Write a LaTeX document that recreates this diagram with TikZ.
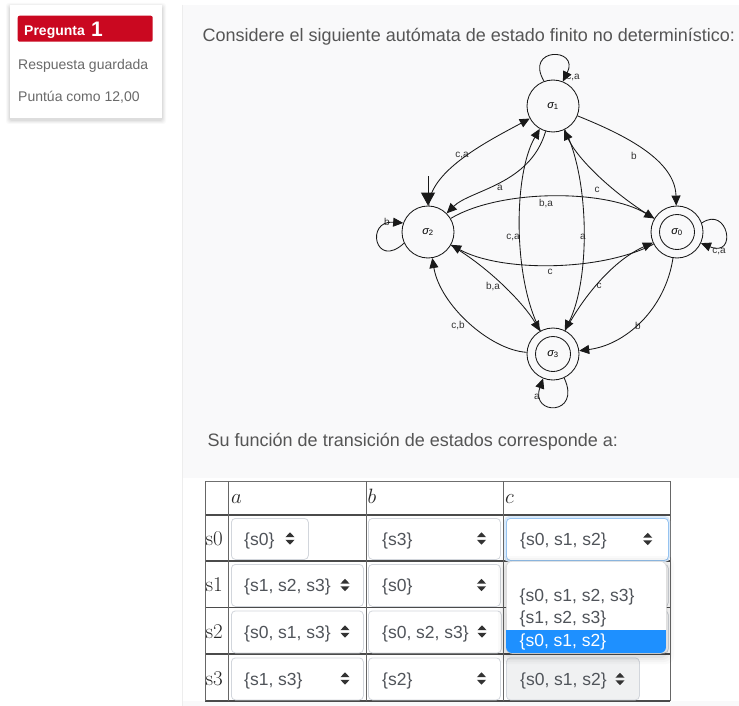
\documentclass[tikz,border=0pt]{standalone}
\usepackage{fontspec}
\setmainfont{Liberation Sans}
\usetikzlibrary{arrows.meta}
\definecolor{qred}{RGB}{202,8,32}
\definecolor{txt}{RGB}{85,85,85}
\definecolor{muted}{RGB}{105,105,105}
\definecolor{bggray}{RGB}{249,249,250}
\definecolor{selb}{RGB}{210,214,220}
\definecolor{seltxt}{RGB}{80,84,90}
\definecolor{focusb}{RGB}{150,195,240}
\definecolor{hl}{RGB}{30,144,255}
\definecolor{gridc}{RGB}{75,75,75}
\definecolor{disab}{RGB}{240,241,242}
\newcommand\selicon[2]{%
  \fill[black!80] (#1-4.6,#2-1.3) -- (#1+4.6,#2-1.3) -- (#1,#2-6.2) -- cycle;
  \fill[black!80] (#1-4.6,#2+1.3) -- (#1+4.6,#2+1.3) -- (#1,#2+6.2) -- cycle;}
\begin{document}
\begin{tikzpicture}[x=1pt,y=-1pt,
  st/.style={circle, draw=black!90, line width=0.85pt, minimum size=52pt, inner sep=0pt, font=\fontsize{11}{11}\selectfont},
  acc/.style={st, path picture={\draw[black!90, line width=0.85pt] (path picture bounding box.center) circle (17.5pt);}},
  tr/.style={draw=black!90, line width=0.85pt, -{Triangle[length=10pt,width=9pt]}},
  el/.style={font=\fontsize{10}{10}\selectfont, text=black!80, inner sep=0pt},
  selbox/.style={draw=selb, fill=white, rounded corners=4pt, line width=0.8pt, inner sep=0pt, anchor=north west, minimum height=41pt},
  seltext/.style={anchor=base west, inner sep=0pt, text=seltxt, font=\fontsize{17.5}{17.5}\selectfont},
  uitext/.style={anchor=base west, inner sep=0pt, text=txt, font=\fontsize{18}{18}\selectfont},
  rowlab/.style={anchor=base west, inner sep=0pt, text=black!85, font=\fontfamily{lmr}\fontsize{21}{21}\selectfont},
  collab/.style={anchor=base west, inner sep=0pt, text=black!85, font=\fontsize{20}{20}\selectfont}
]
\useasboundingbox (0,0) rectangle (739,706);
\fill[white] (0,0) rectangle (739,706);
% content area
\fill[bggray] (182,5) rectangle (739,706);
\draw[black!7, line width=1pt] (182,5) -- (182,706);
\fill[white] (183,478) rectangle (739,701);

% left card
\foreach \i/\o in {4/0.025, 3/0.03, 2/0.035, 1/0.045}
  \fill[black, opacity=\o, rounded corners=3pt] (10-\i,5-\i+2) rectangle (162+\i,118+\i+2);
\fill[white] (10,5) rectangle (162,118);
\node[fill=qred, rounded corners=2pt, minimum width=135pt, minimum height=26pt, inner sep=0pt, anchor=north west] (qbox) at (17.5,15.5) {};
\node[anchor=base west, inner sep=0pt, text=white, font=\bfseries\fontsize{14}{14}\selectfont] (qlabel) at (24,36) {Pregunta};
\node[anchor=base west, inner sep=0pt, text=white, font=\bfseries\fontsize{21}{21}\selectfont] (qnum) at (91,36.5) {1};
\node[anchor=base west, inner sep=0pt, text=muted, font=\fontsize{14}{14}\selectfont] (saved) at (18,70) {Respuesta guardada};
\node[anchor=base west, inner sep=0pt, text=muted, font=\fontsize{14}{14}\selectfont] (score) at (18,101.7) {Puntúa como 12,00};

% texts
\node[uitext] (intro) at (202.5,41.7) {Considere el siguiente autómata de estado finito no determinístico:};
\node[uitext] (ask) at (207.5,446.5) {Su función de transición de estados corresponde a:};

% automaton states
\node[st] (s1) at (553,106) {{\itshape σ}\textsubscript{1}};
\node[st] (s2) at (428,232) {{\itshape σ}\textsubscript{2}};
\node[acc] (s0) at (677,232) {{\itshape σ}\textsubscript{0}};
\node[acc] (s3) at (553,354) {{\itshape σ}\textsubscript{3}};

% labels
\node[el] (l1) at (573,77) {c,a};
\node[el] (l2) at (387,222) {b};
\node[el] (l3) at (719,251) {c,a};
\node[el] (l4) at (537,397) {a};
\node[el] (l5) at (462,155) {c,a};
\node[el] (l6) at (500,188) {a};
\node[el] (l7) at (546,204) {b,a};
\node[el] (l8) at (550,272) {c};
\node[el] (l9) at (634,156) {b};
\node[el] (l10) at (597,190) {c};
\node[el] (l11) at (513,237) {c,a};
\node[el] (l12) at (583,237) {a};
\node[el] (l13) at (493,287) {b,a};
\node[el] (l14) at (458,326) {c,b};
\node[el] (l15) at (599,286) {c};
\node[el] (l16) at (638,326) {b};

% initial arrow
\coordinate (init) at (428,176);
\draw[draw=black!90, line width=0.85pt, -{Triangle[length=13pt,width=14pt]}] (init) -- (s2);

% loops
\draw[tr] (s1.110) .. controls (524,47) and (580,47) .. (s1.68);
\draw[tr] (s2.205) .. controls (375,270) and (365,220) .. (s2.160);
\draw[tr] (s0.20) .. controls (728,205) and (738,258) .. (s0.-25);
\draw[tr] (s3.-65) .. controls (582,416) and (530,416) .. (s3.-112);

% transitions
\draw[tr] (s2) .. controls (430,170) and (490,140) .. (s1);
\draw[tr] (s1) .. controls (530,185) and (470,190) .. (s2);
\draw[tr] (s2) .. controls (500,189) and (605,189) .. (s0);
\draw[tr] (s0) .. controls (600,272) and (500,272) .. (s2);
\draw[tr] (s1) .. controls (625,135) and (675,160) .. (s0);
\draw[tr] (s0) .. controls (615,195) and (578,160) .. (s1);
\draw[tr] (s3) .. controls (513,280) and (513,175) .. (s1);
\draw[tr] (s1) .. controls (590,180) and (590,280) .. (s3);
\draw[tr] (s2) .. controls (490,268) and (525,305) .. (s3);
\draw[tr] (s3) .. controls (490,350) and (440,305) .. (s2);
\draw[tr] (s3) .. controls (584,295) and (614,260) .. (s0);
\draw[tr] (s0) .. controls (665,310) and (625,345) .. (s3);

% table grid
\draw[gridc!80, line width=0.9pt] (205,481) -- (670,481);
\draw[gridc, line width=1.4pt] (205,515) -- (670,515);
\draw[gridc, line width=1.4pt] (205,561) -- (670,561);
\draw[gridc, line width=1.4pt] (205,607.7) -- (670,607.7);
\draw[gridc, line width=1.4pt] (205,654) -- (670,654);
\draw[gridc, line width=1.2pt] (205,701) -- (670,701);
\foreach \xx in {205,228,366,503,670}
  \draw[gridc!85, line width=0.9pt] (\xx,481) -- (\xx,701);

% header labels
\node[collab] (ha) at (231,503) {$a$};
\node[collab] (hb) at (367.5,503) {$b$};
\node[collab] (hc) at (505,503) {$c$};
\node[rowlab] (r0) at (205.5,545) {s0};
\node[rowlab] (r1) at (205.5,591.5) {s1};
\node[rowlab] (r2) at (205.5,638) {s2};
\node[rowlab] (r3) at (205.5,685) {s3};

% row s0
\node[selbox, minimum width=77pt] (a0) at (231,518) {};
\node[selbox, minimum width=132pt] (b0) at (368,518) {};
\fill[focusb!35, rounded corners=5pt] (504,516) rectangle (670,562);
\node[selbox, draw=focusb, minimum width=162pt, minimum height=42pt] (c0) at (506,518) {};
\node[seltext] (ta0) at (244,545) {\{s0\}};
\node[seltext] (tb0) at (382,545) {\{s3\}};
\node[seltext] (tc0) at (520,545) {\{s0, s1, s2\}};
\selicon{290}{538.5}
\selicon{481.5}{538.5}
\selicon{647.7}{539}

% row s1
\node[selbox, minimum width=132pt, minimum height=42pt] (a1) at (231,564) {};
\node[selbox, minimum width=132pt, minimum height=42pt] (b1) at (368,564) {};
\node[selbox, minimum width=162pt, minimum height=42pt] (c1) at (506,564) {};
\node[seltext] (ta1) at (244,591.5) {\{s1, s2, s3\}};
\node[seltext] (tb1) at (382,591.5) {\{s0\}};
\selicon{345}{585}
\selicon{481.5}{585}

% row s2
\node[selbox, minimum width=132pt, minimum height=42pt] (a2) at (231,610.5) {};
\node[selbox, minimum width=133pt, minimum height=42pt] (b2) at (368,610.5) {};
\node[selbox, minimum width=162pt, minimum height=42pt] (c2) at (506,610.5) {};
\node[seltext] (ta2) at (244,638) {\{s0, s1, s3\}};
\node[seltext] (tb2) at (382,638) {\{s0, s2, s3\}};
\selicon{345}{631.5}
\selicon{482}{631.5}

% row s3
\node[selbox, minimum width=132pt, minimum height=42pt] (a3) at (231,657.5) {};
\node[selbox, minimum width=132pt, minimum height=42pt] (b3) at (368,657.5) {};
\node[selbox, fill=disab, minimum width=133pt, minimum height=42pt] (c3) at (506,657.5) {};
\node[seltext] (ta3) at (244,685) {\{s1, s3\}};
\node[seltext] (tb3) at (382,685) {\{s2\}};
\node[seltext] (tc3) at (520,685) {\{s0, s1, s2\}};
\selicon{345}{678.5}
\selicon{481.5}{678.5}
\selicon{620}{679}

% dropdown
\foreach \i/\o in {8/0.02, 6/0.025, 4/0.03, 2/0.04}
  \fill[black, opacity=\o, rounded corners=8pt] (506-\i,561-\i+3) rectangle (666+\i,653+\i+3);
\node[draw=black!15, fill=white, rounded corners=6pt, line width=0.6pt, inner sep=0pt, anchor=north west, minimum width=160pt, minimum height=92pt] (dd) at (506,561) {};
\begin{scope}
  \clip[rounded corners=6pt] (506,561) rectangle (666,653);
  \fill[hl] (506,630) rectangle (666,653);
\end{scope}
\node[seltext] (o1) at (519.5,601) {\{s0, s1, s2, s3\}};
\node[seltext] (o2) at (519.5,623) {\{s1, s2, s3\}};
\node[seltext, text=white] (o3) at (519.5,646) {\{s0, s1, s2\}};
\end{tikzpicture}
\end{document}
